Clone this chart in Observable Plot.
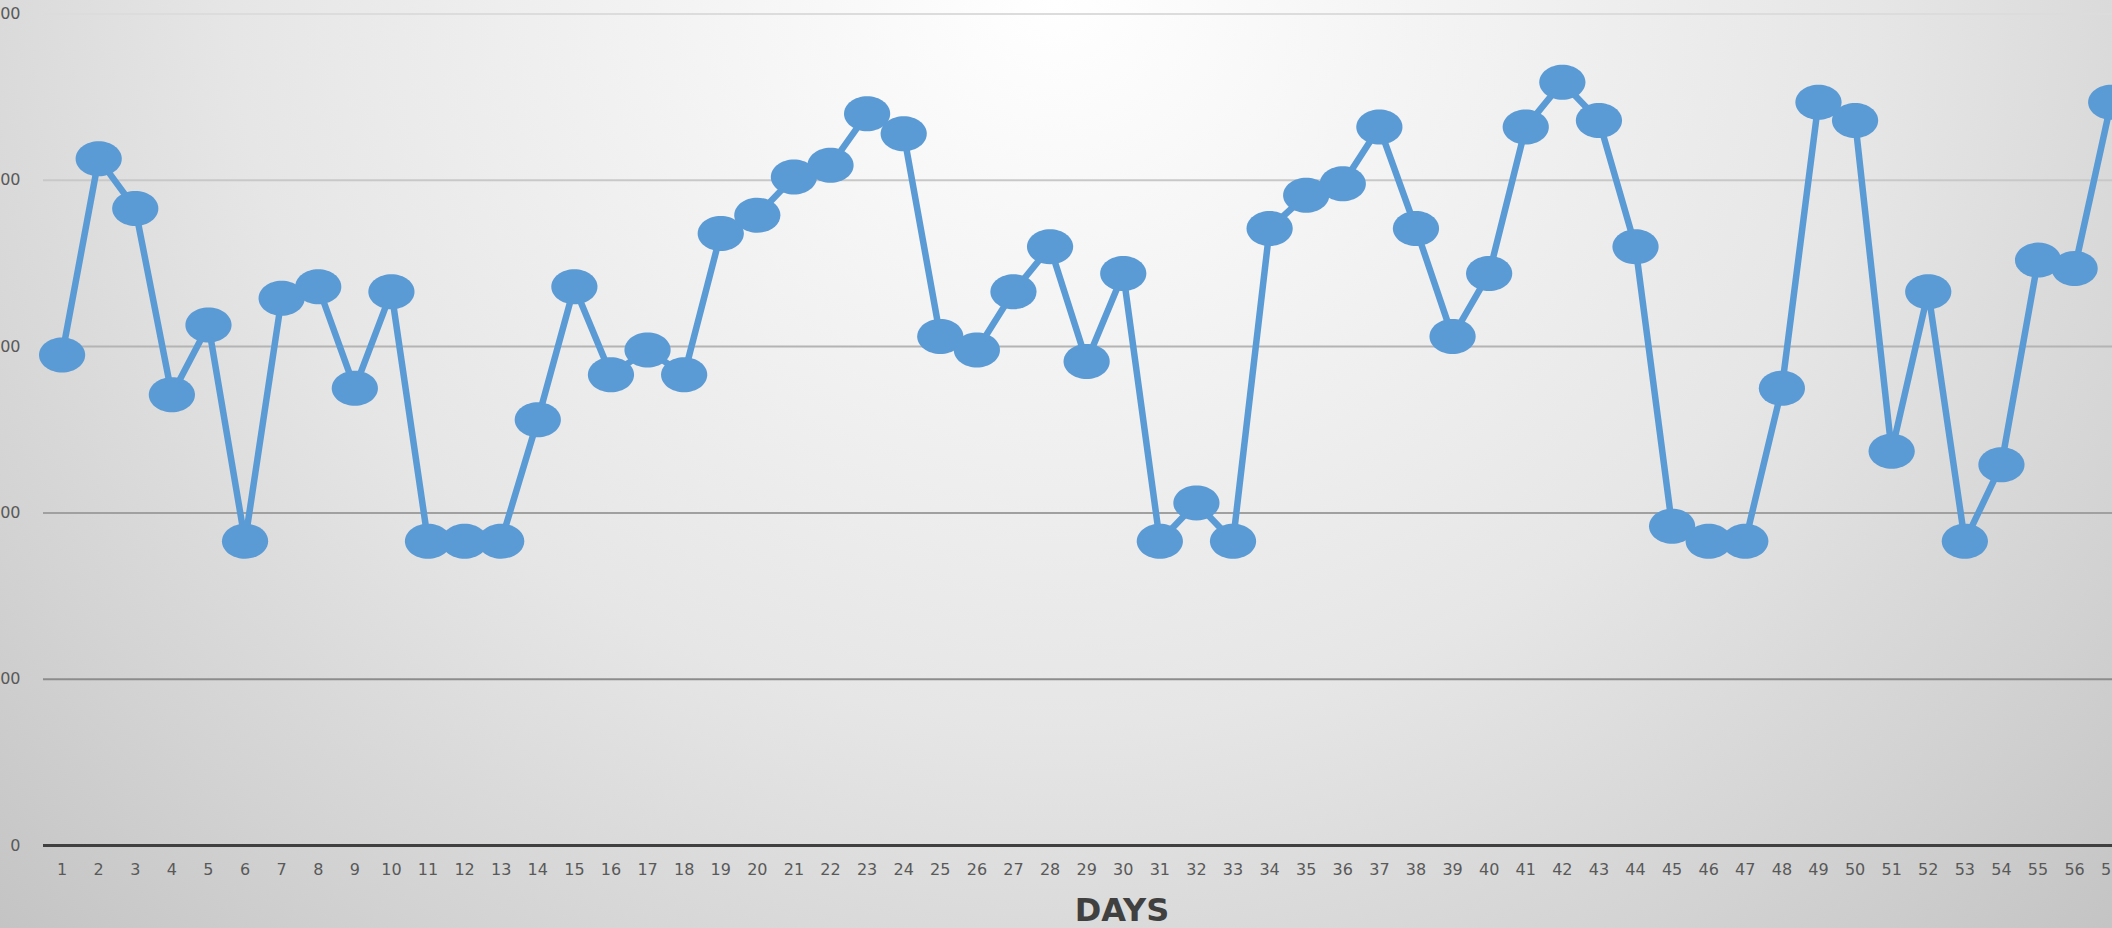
<!DOCTYPE html>
<html>
<head>
<meta charset="utf-8">
<script src="https://cdn.jsdelivr.net/npm/d3@7"></script>
<script src="https://cdn.jsdelivr.net/npm/@observablehq/plot@0.6"></script>
<style>
  html, body { margin: 0; padding: 0; overflow: hidden; }
  #wrap {
    width: 2112px; height: 928px; overflow: hidden; position: relative;
    background: radial-gradient(ellipse farthest-corner at 50% 0%,
      #ffffff 0%, #f5f5f5 22%, #e6e6e6 55%, #dadada 71%, #d2d2d2 82%, #c4c4c4 100%);
  }
  #title {
    position: absolute; left: 0; top: 890px; width: 2244px; height: 38px;
    text-align: center; font-family: "DejaVu Sans", sans-serif; font-weight: bold;
    font-size: 32px; line-height: 40px; color: #404040;
  }
</style>
</head>
<body>
<div id="wrap"><div id="chart"></div><div id="title">DAYS</div></div>
<script>
const days = [1,2,3,4,5,6,7,8,9,10,11,12,13,14,15,16,17,18,19,20,21,22,23,24,25,26,27,28,29,30,
  31,32,33,34,35,36,37,38,39,40,41,42,43,44,45,46,47,48,49,50,51,52,53,54,55,56,57];
const values = [295,413,383,271,313,183,329,336,275,333,
  183,183,183,256,336,283,298,283,368,379,
  402,409,440,428,306,298,333,360,291,344,
  183,206,183,371,391,398,432,371,306,344,
  432,459,436,360,192,183,183,275,447,436,
  237,333,183,229,352,347,447];
const yTicks = [0,100,200,300,400,500];
const gridValues = [100,200,300,400,500];

const data = days.map((d, i) => ({day: d, value: values[i]}));

const ellipse = {
  draw(context, size) {
    const r = Math.sqrt(size / Math.PI);
    const rx = r * 1.32, ry = r, k = 0.5523;
    const kx = rx * k, ky = ry * k;
    context.moveTo(rx, 0);
    context.bezierCurveTo(rx, ky, kx, ry, 0, ry);
    context.bezierCurveTo(-kx, ry, -rx, ky, -rx, 0);
    context.bezierCurveTo(-rx, -ky, -kx, -ry, 0, -ry);
    context.bezierCurveTo(kx, -ry, rx, -ky, rx, 0);
    context.closePath();
  }
};

const gridColor = d3.scaleLinear().domain([100, 500]).range(["#8c8c8c", "#dcdcdc"]);

const chart = Plot.plot({
  width: 2112,
  height: 890,
  marginLeft: 43,
  marginRight: 0,
  marginTop: 13.5,
  marginBottom: 45,
  style: {background: "transparent", fontFamily: "DejaVu Sans, sans-serif", fontSize: "16px", color: "#595959", overflow: "hidden"},
  x: {type: "point", domain: days, range: [43.3, 2129], padding: 0.5, tickSize: 0, tickPadding: 18, label: null},
  y: {domain: [0, 500], ticks: yTicks, tickSize: 0, tickPadding: 23, label: null, tickFormat: d => String(d)},
  marks: [
    Plot.ruleY(gridValues, {y: d => d, stroke: d => gridColor(d), strokeWidth: 2}),
    Plot.ruleY([0], {stroke: "#404040", strokeWidth: 3}),
    Plot.line(data, {x: "day", y: "value", stroke: "#5B9BD5", strokeWidth: 6.5}),
    Plot.dot(data, {x: "day", y: "value", fill: "#5B9BD5", stroke: "none", r: 17.5, symbol: ellipse})
  ]
});
document.getElementById("chart").appendChild(chart);
</script>
</body>
</html>
